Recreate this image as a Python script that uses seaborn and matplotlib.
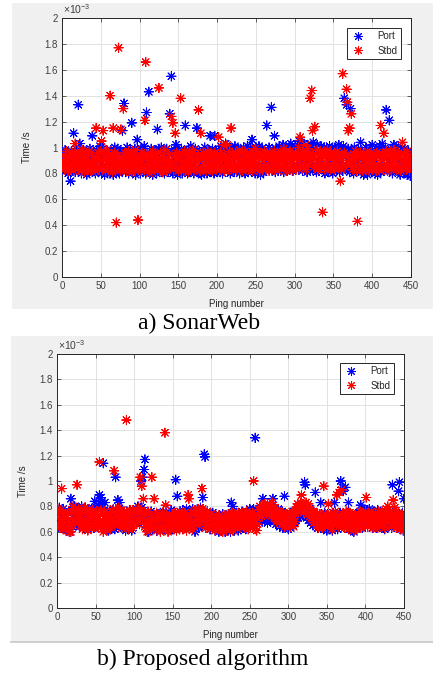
import numpy as np
import pandas as pd
import matplotlib
matplotlib.use("Agg")
import matplotlib.pyplot as plt
import seaborn as sns
from matplotlib.lines import Line2D
from matplotlib.patches import Rectangle

# ---------------- data (time values in units of 1e-5 s, i.e. 0.01 x 10^-3 s) -------------
sonarweb_port = [
    95, 84, 91, 98, 82, 90, 96, 80, 88, 93,
    74, 97, 83, 89, 111, 94, 81, 99, 86, 92,
    133, 85, 103, 96, 80, 91, 84, 98, 82, 95,
    88, 79, 93, 97, 81, 99, 86, 83, 109, 90,
    96, 82, 80, 94, 98, 85, 81, 92, 101, 87,
    80, 95, 99, 83, 79, 91, 86, 97, 81, 94,
    84, 80, 98, 92, 83, 79, 96, 100, 85, 82,
    93, 99, 81, 80, 89, 97, 83, 113, 86, 134,
    94, 81, 97, 100, 84, 80, 91, 98, 82, 119,
    81, 96, 85, 99, 79, 90, 106, 83, 97, 92,
    80, 99, 84, 95, 82, 101, 88, 80, 127, 96,
    85, 143, 93, 81, 99, 86, 79, 96, 82, 98,
    94, 80, 114, 85, 99, 81, 92, 100, 83, 89,
    97, 80, 93, 82, 99, 87, 81, 96, 126, 84,
    155, 95, 80, 88, 98, 82, 102, 91, 79, 85,
    97, 81, 90, 99, 80, 94, 97, 83, 117, 92,
    84, 80, 98, 93, 81, 101, 88, 96, 82, 80,
    95, 99, 84, 115, 81, 93, 97, 86, 80, 79,
    96, 83, 91, 100, 82, 94, 80, 89, 98, 84,
    109, 81, 95, 99, 87, 80, 109, 97, 83, 92,
    82, 98, 88, 81, 101, 93, 80, 95, 99, 84,
    103, 86, 97, 82, 92, 100, 80, 94, 83, 98,
    93, 81, 101, 86, 97, 82, 99, 84, 80, 95,
    98, 85, 82, 100, 91, 80, 96, 84, 101, 81,
    94, 83, 99, 90, 106, 82, 97, 86, 80, 100,
    92, 97, 81, 101, 85, 79, 94, 99, 83, 81,
    98, 90, 82, 117, 96, 84, 100, 85, 93, 131,
    83, 97, 89, 109, 81, 99, 86, 96, 82, 101,
    94, 83, 99, 90, 102, 81, 96, 86, 100, 82,
    97, 89, 101, 84, 103, 93, 82, 99, 86, 96,
    100, 85, 94, 102, 83, 105, 97, 88, 101, 82,
    96, 103, 85, 99, 91, 81, 102, 88, 97, 83,
    100, 92, 83, 104, 96, 85, 99, 81, 102, 90,
    82, 97, 88, 101, 84, 96, 85, 100, 80, 93,
    99, 83, 94, 81, 101, 89, 97, 85, 80, 96,
    83, 100, 91, 82, 98, 86, 102, 81, 94, 99,
    90, 82, 101, 138, 97, 85, 133, 83, 99, 93,
    81, 130, 90, 98, 83, 80, 100, 86, 96, 82,
    94, 99, 83, 91, 104, 81, 97, 86, 79, 96,
    83, 100, 90, 79, 95, 82, 99, 87, 81, 102,
    91, 82, 97, 80, 99, 86, 79, 95, 83, 101,
    81, 98, 103, 85, 94, 82, 100, 129, 84, 96,
    90, 121, 82, 99, 86, 80, 97, 102, 84, 93,
    98, 82, 91, 101, 86, 79, 96, 83, 100, 89,
    82, 99, 85, 94, 80, 79, 97, 84, 78, 81,
]
sonarweb_stbd = [
    87, 94, 83, 91, 85, 97, 89, 82, 93, 86,
    92, 84, 96, 88, 82, 94, 103, 86, 90, 97,
    84, 95, 87, 92, 82, 98, 86, 93, 81, 90,
    95, 85, 91, 83, 97, 88, 82, 96, 89, 84,
    93, 87, 82, 115, 91, 84, 96, 83, 90, 97,
    105, 86, 113, 84, 93, 82, 91, 98, 83, 89,
    95, 140, 85, 92, 81, 115, 88, 96, 83, 42,
    90, 94, 177, 85, 82, 114, 92, 87, 130, 83,
    96, 89, 82, 93, 85, 97, 88, 83, 92, 81,
    95, 85, 90, 82, 98, 87, 93, 44, 84, 91,
    88, 82, 96, 85, 92, 83, 121, 166, 90, 95,
    84, 87, 80, 94, 82, 90, 97, 85, 92, 83,
    95, 87, 82, 91, 146, 85, 96, 83, 90, 81,
    93, 85, 98, 87, 82, 91, 84, 95, 89, 86,
    124, 88, 119, 83, 93, 111, 85, 96, 90, 82,
    92, 84, 138, 87, 95, 85, 82, 97, 89, 83,
    93, 87, 81, 96, 85, 92, 83, 90, 98, 82,
    88, 95, 85, 92, 83, 129, 90, 82, 111, 94,
    85, 96, 83, 90, 93, 82, 88, 97, 85, 92,
    83, 95, 87, 82, 92, 85, 96, 89, 83, 94,
    88, 108, 92, 83, 96, 85, 90, 102, 82, 94,
    85, 92, 102, 87, 83, 97, 90, 115, 85, 95,
    82, 92, 87, 96, 83, 94, 85, 90, 98, 83,
    95, 87, 82, 92, 85, 97, 83, 90, 94, 87,
    83, 96, 90, 85, 92, 82, 95, 87, 99, 85,
    92, 83, 94, 87, 82, 96, 85, 92, 83, 90,
    97, 87, 83, 94, 85, 92, 82, 96, 90, 83,
    94, 85, 90, 97, 83, 92, 87, 82, 95, 85,
    90, 96, 83, 94, 87, 99, 85, 92, 82, 95,
    87, 94, 83, 97, 90, 85, 95, 82, 92, 87,
    96, 85, 94, 90, 100, 83, 108, 92, 87, 97,
    85, 95, 90, 102, 83, 94, 99, 87, 96, 138,
    90, 144, 113, 92, 85, 116, 95, 87, 98, 83,
    94, 90, 97, 85, 92, 50, 87, 96, 83, 95,
    90, 98, 85, 94, 87, 83, 96, 92, 85, 90,
    95, 83, 92, 87, 97, 85, 94, 90, 74, 83,
    92, 157, 87, 96, 85, 94, 145, 135, 113, 90,
    115, 87, 126, 92, 83, 95, 85, 90, 97, 82,
    43, 94, 87, 83, 96, 85, 92, 82, 95, 87,
    83, 94, 90, 97, 85, 82, 92, 87, 96, 83,
    90, 95, 85, 92, 82, 96, 87, 83, 94, 85,
    117, 90, 95, 83, 111, 92, 85, 97, 87, 82,
    94, 85, 96, 90, 83, 92, 87, 98, 85, 95,
    83, 92, 87, 96, 85, 94, 82, 90, 104, 87,
    95, 85, 92, 83, 97, 87, 94, 82, 90, 86,
]
proposed_port = [
    77, 70, 79, 66, 74, 63, 72, 78, 68, 65,
    62, 73, 61, 67, 75, 60, 60, 86, 76, 64,
    79, 71, 80, 74, 66, 78, 72, 69, 64, 77,
    73, 80, 67, 63, 76, 70, 79, 65, 74, 62,
    70, 64, 77, 71, 78, 66, 74, 63, 84, 69,
    76, 79, 72, 80, 89, 82, 87, 84, 79, 114,
    77, 83, 70, 65, 74, 63, 61, 68, 62, 66,
    73, 77, 64, 71, 62, 103, 69, 76, 85, 78,
    83, 72, 65, 77, 70, 63, 75, 67, 61, 73,
    68, 62, 74, 77, 64, 71, 61, 75, 65, 70,
    76, 69, 78, 72, 80, 74, 66, 77, 100, 79,
    103, 75, 109, 117, 70, 63, 74, 66, 60, 73,
    65, 76, 70, 62, 74, 67, 63, 72, 61, 69,
    74, 64, 71, 61, 73, 66, 68, 76, 62, 70,
    67, 75, 63, 71, 61, 74, 66, 77, 69, 62,
    72, 64, 75, 101, 66, 88, 73, 68, 62, 76,
    73, 65, 77, 70, 63, 75, 68, 78, 72, 64,
    76, 70, 63, 74, 67, 78, 64, 72, 60, 69,
    74, 66, 77, 63, 72, 79, 69, 65, 87, 76,
    121, 119, 73, 66, 76, 64, 74, 69, 62, 72,
    68, 75, 63, 71, 61, 73, 66, 62, 69, 60,
    65, 72, 61, 68, 74, 63, 67, 60, 71, 64,
    69, 62, 74, 65, 60, 83, 68, 80, 66, 61,
    72, 64, 75, 67, 61, 69, 74, 62, 67, 76,
    68, 74, 63, 71, 62, 76, 66, 69, 73, 78,
    76, 69, 74, 67, 78, 72, 134, 77, 68, 75,
    69, 76, 72, 79, 73, 68, 86, 77, 80, 74,
    71, 78, 67, 75, 80, 72, 68, 77, 80, 86,
    77, 70, 79, 66, 75, 68, 78, 72, 64, 71,
    69, 76, 63, 72, 88, 66, 74, 64, 70, 62,
    68, 75, 63, 70, 73, 65, 76, 67, 74, 69,
    76, 79, 71, 77, 80, 72, 78, 81, 73, 79,
    99, 97, 77, 71, 79, 69, 78, 74, 67, 72,
    73, 65, 76, 69, 91, 66, 74, 63, 72, 67,
    70, 83, 63, 73, 67, 62, 75, 65, 71, 61,
    66, 73, 62, 70, 64, 71, 61, 75, 66, 83,
    69, 64, 74, 62, 71, 66, 75, 100, 68, 95,
    92, 74, 65, 95, 71, 63, 75, 83, 67, 73,
    64, 72, 61, 69, 60, 66, 74, 62, 71, 65,
    69, 75, 65, 81, 73, 63, 71, 77, 67, 74,
    73, 66, 77, 70, 78, 74, 67, 73, 63, 76,
    70, 75, 67, 63, 73, 77, 65, 71, 75, 68,
    66, 74, 63, 71, 62, 69, 75, 65, 73, 64,
    68, 75, 71, 63, 97, 73, 66, 77, 70, 68,
    64, 72, 92, 99, 67, 62, 70, 75, 61, 86,
]
proposed_stbd = [
    78, 72, 66, 63, 77, 94, 70, 62, 74, 67,
    76, 63, 71, 61, 68, 60, 64, 60, 75, 66,
    80, 70, 77, 67, 75, 97, 69, 78, 73, 65,
    77, 71, 62, 74, 67, 79, 64, 76, 69, 61,
    73, 78, 65, 75, 63, 70, 77, 64, 74, 67,
    76, 65, 72, 63, 115, 69, 77, 64, 74, 60,
    68, 76, 64, 73, 61, 70, 66, 75, 63, 69,
    76, 69, 78, 108, 65, 72, 77, 67, 74, 79,
    71, 77, 66, 63, 74, 69, 76, 64, 72, 148,
    67, 75, 62, 70, 77, 65, 73, 63, 76, 68,
    74, 78, 66, 76, 69, 79, 71, 103, 77, 96,
    70, 86, 75, 64, 73, 67, 60, 76, 63, 70,
    65, 73, 103, 68, 62, 86, 70, 64, 75, 61,
    68, 63, 73, 60, 71, 65, 75, 62, 69, 138,
    81, 63, 71, 60, 66, 74, 62, 69, 73, 64,
    71, 62, 75, 66, 61, 73, 68, 63, 76, 70,
    66, 74, 62, 71, 64, 75, 68, 61, 73, 89,
    86, 70, 63, 75, 67, 62, 73, 66, 77, 70,
    75, 67, 78, 72, 65, 76, 70, 94, 78, 72,
    68, 75, 63, 71, 76, 65, 73, 62, 69, 74,
    71, 64, 73, 66, 61, 71, 63, 69, 65, 73,
    67, 61, 71, 65, 60, 69, 63, 73, 66, 61,
    69, 74, 64, 71, 62, 67, 75, 61, 70, 65,
    73, 66, 71, 62, 75, 69, 64, 73, 66, 71,
    75, 69, 64, 73, 66, 76, 70, 62, 73, 68,
    64, 73, 66, 75, 100, 70, 62, 69, 61, 66,
    73, 77, 80, 75, 79, 72, 81, 77, 82, 76,
    80, 74, 82, 78, 75, 81, 77, 72, 83, 79,
    77, 71, 79, 74, 68, 76, 70, 75, 67, 73,
    72, 66, 75, 70, 64, 74, 68, 72, 63, 71,
    69, 74, 66, 73, 76, 70, 64, 74, 68, 77,
    79, 82, 76, 81, 78, 83, 89, 79, 82, 75,
    81, 77, 83, 79, 74, 82, 76, 72, 78, 71,
    71, 76, 67, 75, 69, 74, 65, 72, 63, 70,
    74, 67, 72, 63, 70, 96, 65, 74, 68, 73,
    64, 82, 70, 66, 74, 68, 62, 73, 66, 71,
    76, 68, 89, 73, 64, 91, 70, 66, 93, 74,
    68, 73, 63, 71, 76, 65, 73, 62, 69, 75,
    70, 63, 74, 66, 61, 73, 68, 62, 71, 65,
    73, 68, 76, 63, 70, 75, 65, 73, 68, 76,
    87, 70, 64, 74, 67, 73, 65, 76, 70, 63,
    73, 68, 75, 65, 71, 63, 76, 68, 73, 66,
    70, 76, 67, 74, 63, 73, 78, 69, 80, 74,
    67, 75, 70, 64, 73, 85, 65, 79, 70, 63,
    74, 66, 75, 68, 62, 71, 64, 73, 67, 61,
]
pings = list(range(1, 451))
series_names = ["Port", "Stbd"]
series_colors = ["#0000ff", "#ff0000"]
x_ticks = [0, 50, 100, 150, 200, 250, 300, 350, 400, 450]
y_ticks = [0, 0.2, 0.4, 0.6, 0.8, 1.0, 1.2, 1.4, 1.6, 1.8, 2.0]
y_tick_labels = ["0", "0.2", "0.4", "0.6", "0.8", "1", "1.2", "1.4", "1.6", "1.8", "2"]
captions = ["a) SonarWeb", "b) Proposed algorithm"]

# ---------------- style ----------------
plt.rcParams["font.family"] = ["Liberation Sans", "DejaVu Sans"]
plt.rcParams["mathtext.fontset"] = "custom"
plt.rcParams["mathtext.rm"] = "Liberation Sans"
plt.rcParams["mathtext.it"] = "Liberation Sans:italic"

W, H = 433, 675
fig = plt.figure(figsize=(W / 100, H / 100), dpi=100)
fig.patch.set_facecolor("white")


def px_rect(l, t, r, b):
    return [l / W, 1 - b / H, (r - l) / W, (b - t) / H]


def gray_panel(l, t, r, b):
    fig.patches.append(Rectangle((l / W, 1 - b / H), (r - l) / W, (b - t) / H,
                                 transform=fig.transFigure, facecolor="#f0f0f0",
                                 edgecolor="none", zorder=-10))


gray_panel(12, 3, 433, 309)
gray_panel(11, 336, 433, 642)
fig.add_artist(Line2D([11 / W, 1], [1 - 642 / H, 1 - 642 / H], transform=fig.transFigure,
                      color="#c8c8c8", lw=1.2, zorder=-5))

panels = [
    (sonarweb_port, sonarweb_stbd, (62, 18, 411, 277), (401, 28), (199, 329)),
    (proposed_port, proposed_stbd, (57, 354, 404, 608), (394, 363), (203, 665)),
]
MARK = (8, 2, 0)
text_col = "#262626"
tick_col = "#404040"

for (port, stbd, rect, leg_tr, cap_xy), caption in zip(panels, captions):
    ax = fig.add_axes(px_rect(*rect))
    ax.set_zorder(5)
    ax.set_facecolor("white")
    df = pd.DataFrame({
        "Ping": pings + pings,
        "Time": np.array(port + stbd, dtype=float) / 100.0,
        "Series": [series_names[0]] * len(port) + [series_names[1]] * len(stbd),
    })
    sns.scatterplot(data=df, x="Ping", y="Time", hue="Series",
                    palette=dict(zip(series_names, series_colors)),
                    marker=MARK, s=44, linewidth=0.7, legend=False, ax=ax, zorder=3)
    ax.set_xlim(0, 450)
    ax.set_ylim(0, 2)
    ax.set_xticks(x_ticks)
    ax.set_yticks(y_ticks)
    ax.set_yticklabels(y_tick_labels)
    ax.grid(True, color="#e2e2e2", lw=0.7)
    ax.set_axisbelow(True)
    ax.tick_params(direction="in", length=3, width=0.5, top=True, right=True,
                   labelsize=7, labelcolor=tick_col, color=text_col, pad=3)
    for sp in ax.spines.values():
        sp.set_color(text_col)
        sp.set_linewidth(0.7)
    ax.set_xlabel("Ping number", fontsize=7, color=text_col)
    ax.set_ylabel("Time /s", fontsize=7, color=text_col)
    ax.xaxis.set_label_coords(0.5, -0.086)
    ax.yaxis.set_label_coords(-0.085, 0.5)
    ax.text(0.003, 1.008, r"$\times10^{-3}$", transform=ax.transAxes, fontsize=7.5,
            color=tick_col, ha="left", va="bottom")
    handles = [Line2D([], [], marker=MARK, ls="none", color=c, markersize=6.5, mew=0.75)
               for c in series_colors]
    leg = ax.legend(handles, series_names, loc="upper right",
                    bbox_to_anchor=(leg_tr[0] / W, 1 - leg_tr[1] / H),
                    bbox_transform=fig.transFigure, borderaxespad=0,
                    fontsize=7, frameon=True, fancybox=False, framealpha=1,
                    handlelength=1.6, handletextpad=1.2, borderpad=0.35,
                    labelspacing=0.45)
    leg.get_frame().set_edgecolor("#262626")
    leg.get_frame().set_linewidth(0.7)
    for t in leg.get_texts():
        t.set_color(text_col)
    fig.text(cap_xy[0] / W, 1 - cap_xy[1] / H, caption, ha="center", va="baseline",
             fontsize=17, family=["Liberation Serif", "DejaVu Serif"], color="black",
             zorder=6)

fig.savefig("out.png", dpi=100)
